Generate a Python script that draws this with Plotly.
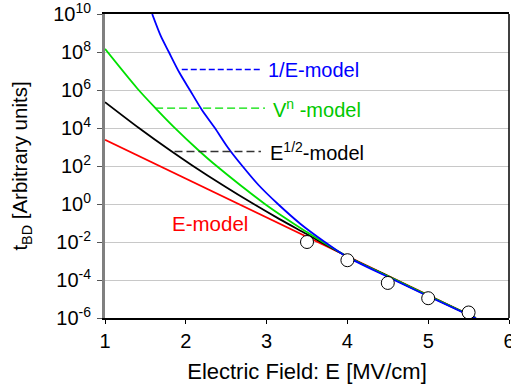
import plotly.graph_objects as go

# ---- data ----
red_E = [1.0, 2.47, 4.0, 5.59]
red_t = [2.4e3, 2.34, 1.7e-3, 1.0e-6]

black_E = [1.0, 1.42, 1.80, 2.08, 2.47, 2.83, 3.16, 3.49, 3.98, 4.5, 5.0, 5.59]
black_t = [2.3e5, 1.0e4, 6.9e2, 1.07e2, 9.1, 1.05, 1.6e-1, 2.7e-2, 1.9e-3, 1.6e-4, 1.5e-5, 1.0e-6]

green_E = [1.0, 1.40, 1.63, 1.85, 2.17, 2.34, 2.97, 3.16, 3.49, 3.98, 4.5, 5.0, 5.59]
green_t = [1.45e8, 1.2e6, 1.05e5, 1.15e4, 6.0e2, 1.4e2, 1.07, 2.9e-1, 3.5e-2, 1.9e-3, 1.6e-4, 1.5e-5, 1.0e-6]

blue_E = [1.584, 1.69, 1.79, 1.92, 2.05, 2.20, 2.36, 2.52, 2.70, 2.90, 3.14, 3.42, 3.72, 3.98, 4.5, 5.0, 5.59]
blue_t = [1.0e10, 7.0e8, 1.0e8, 8.3e6, 1.0e6, 8.9e4, 1.0e4, 9.5e2, 1.0e2, 1.0e1, 1.0, 8.9e-2, 1.0e-2, 1.8e-3, 1.45e-4, 1.4e-5, 9.5e-7]

meas_E = [3.5, 4.0, 4.5, 5.0, 5.5]
meas_t = [1.0e-2, 1.1e-3, 7.0e-5, 1.1e-5, 1.95e-6]

x_ticks = [1, 2, 3, 4, 5, 6]
y_exps = [-6, -4, -2, 0, 2, 4, 6, 8, 10]
y_ticks = [10.0 ** e for e in y_exps]
y_ticktext = ["10<sup>%d</sup>" % e for e in y_exps]

# label leader lines (E range, t level) and label texts
lbl_blue = dict(E=[1.95, 2.95], t=[1.2e7, 1.2e7], text="1/E-model", pos=(2.99, 7.07))
lbl_green = dict(E=[1.62, 2.98], t=[1.1e5, 1.1e5], text="V<sup>n</sup> -model", pos=(3.06, 5.05))
lbl_black = dict(E=[1.86, 2.93], t=[5.8e2, 5.8e2], text="E<sup>1/2</sup>-model", pos=(3.02, 2.77))
lbl_red = dict(text="E-model", pos=(2.30, -1.04))

RED, BLACK, GREEN, BLUE = "#FF0000", "#000000", "#00E000", "#0000FF"
FONT = "Liberation Sans, Arial, sans-serif"

fig = go.Figure()
fig.add_trace(go.Scatter(x=red_E, y=red_t, mode="lines", line=dict(color=RED, width=1.8)))
fig.add_trace(go.Scatter(x=black_E, y=black_t, mode="lines", line=dict(color=BLACK, width=1.8, shape="spline", smoothing=0.8)))
fig.add_trace(go.Scatter(x=green_E, y=green_t, mode="lines", line=dict(color=GREEN, width=1.8, shape="spline", smoothing=0.8)))
fig.add_trace(go.Scatter(x=blue_E, y=blue_t, mode="lines", line=dict(color=BLUE, width=1.8, shape="spline", smoothing=0.8)))

fig.add_trace(go.Scatter(x=lbl_blue["E"], y=lbl_blue["t"], mode="lines",
                         line=dict(color=BLUE, width=1.3, dash="6px,3px")))
fig.add_trace(go.Scatter(x=lbl_green["E"], y=lbl_green["t"], mode="lines",
                         line=dict(color=GREEN, width=1.3, dash="8px,4px")))
fig.add_trace(go.Scatter(x=lbl_black["E"], y=lbl_black["t"], mode="lines",
                         line=dict(color="#333333", width=1.3, dash="8px,4px")))

fig.add_trace(go.Scatter(x=meas_E, y=meas_t, mode="markers", cliponaxis=False,
                         marker=dict(size=13, color="white", line=dict(color="black", width=1))))

for lbl, col in [(lbl_blue, BLUE), (lbl_green, "#00C800"), (lbl_black, BLACK)]:
    fig.add_annotation(x=lbl["pos"][0], y=lbl["pos"][1], xref="x", yref="y",
                       text=lbl["text"], showarrow=False, xanchor="left", yanchor="middle",
                       font=dict(family=FONT, size=20, color=col))
fig.add_annotation(x=lbl_red["pos"][0], y=lbl_red["pos"][1], xref="x", yref="y",
                   text=lbl_red["text"], showarrow=False, xanchor="center", yanchor="middle",
                   font=dict(family=FONT, size=20.5, color=RED))

# right border
fig.add_shape(type="line", xref="paper", yref="paper", x0=1, x1=1, y0=0, y1=1,
              line=dict(color="black", width=1.5))

fig.update_layout(
    width=511, height=392,
    margin=dict(l=105, r=2, t=14, b=74),
    paper_bgcolor="white", plot_bgcolor="white",
    showlegend=False,
    font=dict(family=FONT, size=20, color="black"),
    xaxis=dict(range=[1, 6], tickvals=x_ticks, showgrid=False, zeroline=False,
               showline=True, linecolor="black", linewidth=1.5, mirror=True,
               ticks="outside", ticklen=4, tickcolor="black",
               ticklabeloverflow="allow", automargin=False,
               title=dict(text="Electric Field: E [MV/cm]", font=dict(size=22), standoff=13),
               tickfont=dict(size=20)),
    yaxis=dict(type="log", range=[-6, 10], tickvals=y_ticks, ticktext=y_ticktext,
               showgrid=True, gridcolor="#C8C8C8", gridwidth=1, zeroline=False,
               showline=True, linecolor="#808080", linewidth=3,
               ticks="outside", ticklen=5, tickcolor="#555555",
               ticklabelstandoff=2, ticklabeloverflow="allow", automargin=False,
               title=dict(text="t<sub>BD</sub> [Arbitrary units]", font=dict(size=20.5), standoff=20),
               tickfont=dict(size=20)),
)

fig.write_html("out.html")
